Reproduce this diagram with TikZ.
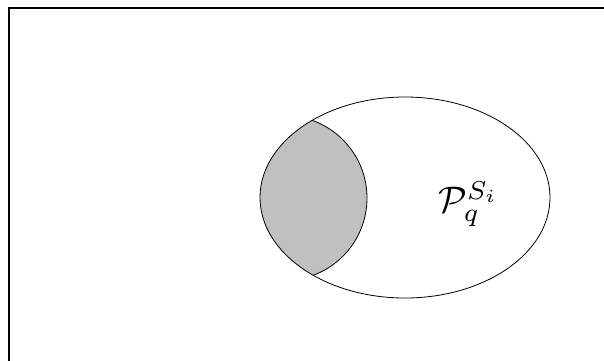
\documentclass[tikz,border=0pt]{standalone}
\usepackage{amsmath}
\definecolor{lensgray}{RGB}{192,192,192}
\begin{document}
\begin{tikzpicture}[x=1pt,y=-1pt,
  outline/.style={draw=black,line width=0.8pt},
  frameline/.style={draw=black,line width=1.8pt}]
\useasboundingbox (0,0) rectangle (604,360);
% frame (only top and left edges visible)
\draw[frameline] (8.8,362) -- (8.8,7.6) -- (606,7.6);
% shaded lens
\begin{scope}
  \clip (405,197.5) ellipse [x radius=145, y radius=100.5];
  \fill[lensgray] (284.6,198) circle [radius=82.4];
  \draw[outline] (284.6,198) circle [radius=82.4];
\end{scope}
\draw[outline] (405,197.5) ellipse [x radius=145, y radius=100.5];
\node[inner sep=0pt,scale=3.7] (lbl) at (468.5,204) {$\mathcal{P}_q^{S_i}$};
\end{tikzpicture}
\end{document}
